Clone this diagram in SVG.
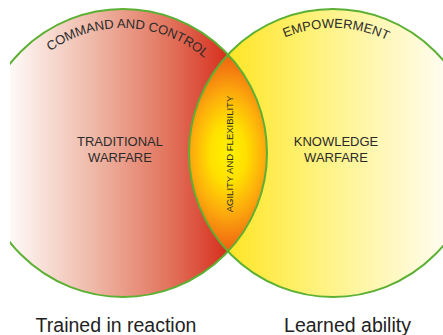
<svg xmlns="http://www.w3.org/2000/svg" width="443" height="335" viewBox="0 0 443 335">
<style>
.ring{fill:none;stroke:#5cb033;stroke-width:2}
.lbl{font-family:"Liberation Sans",Arial,sans-serif;fill:#2b2b2b}
.arc{font-size:13px}
.mid{font-size:13px;text-anchor:middle}
.bot{font-size:19.5px;text-anchor:middle;fill:#222}
</style>
<defs>
<linearGradient id="gRed" gradientUnits="userSpaceOnUse" x1="10" y1="0" x2="267" y2="0">
<stop offset="0" stop-color="#fefaf8"/>
<stop offset="0.32" stop-color="#efb9a8"/>
<stop offset="0.62" stop-color="#e2735c"/>
<stop offset="0.85" stop-color="#d62e1c"/>
<stop offset="1" stop-color="#cc1407"/>
</linearGradient>
<linearGradient id="gYel" gradientUnits="userSpaceOnUse" x1="189" y1="0" x2="443" y2="0">
<stop offset="0" stop-color="#ffe000"/>
<stop offset="0.5" stop-color="#fff27c"/>
<stop offset="1" stop-color="#fffcee"/>
</linearGradient>
<radialGradient id="gLens" gradientUnits="userSpaceOnUse" cx="228" cy="153" r="100" gradientTransform="translate(228,153) scale(0.6,1) translate(-228,-153)">
<stop offset="0" stop-color="#fff200"/>
<stop offset="0.3" stop-color="#ffe000"/>
<stop offset="0.6" stop-color="#fcac0c"/>
<stop offset="0.85" stop-color="#f47a10"/>
<stop offset="1" stop-color="#f06010"/>
</radialGradient>
<clipPath id="clip"><rect x="10" y="0" width="433" height="335"/></clipPath>
<path id="arcL" d="M17.6,85.8 A125,125 0 0 1 233.9,95.3"/>
<path id="arcR" d="M226.4,87.7 A125,125 0 0 1 442.9,93.3"/>
</defs>
<g clip-path="url(#clip)">
<g id="traditional">
<circle cx="123" cy="153" r="144" fill="url(#gRed)"/>
</g>
<g id="knowledge">
<circle cx="333" cy="153" r="144" fill="url(#gYel)"/>
</g>
<g id="agility">
<path d="M228,54.5 A144,144 0 0 1 228,251.5 A144,144 0 0 1 228,54.5 Z" fill="url(#gLens)"/>
</g>
<g id="connectors">
<circle class="ring" cx="123" cy="153" r="144"/>
<circle class="ring" cx="333" cy="153" r="144"/>
</g>
</g>
<g id="labels">
<text class="lbl arc"><textPath href="#arcL" startOffset="50%" text-anchor="middle">COMMAND AND CONTROL</textPath></text>
<text class="lbl arc"><textPath href="#arcR" startOffset="50%" text-anchor="middle">EMPOWERMENT</textPath></text>
<text class="lbl mid" x="120" y="146">TRADITIONAL</text>
<text class="lbl mid" x="120" y="162">WARFARE</text>
<text class="lbl mid" x="336" y="146">KNOWLEDGE</text>
<text class="lbl mid" x="336" y="162">WARFARE</text>
<text class="lbl" font-size="9.5" text-anchor="middle" transform="translate(233,154) rotate(-90)">AGILITY AND FLEXIBILITY</text>
<text class="lbl bot" x="116" y="332">Trained in reaction</text>
<text class="lbl bot" x="347.5" y="332">Learned ability</text>
</g>
</svg>
